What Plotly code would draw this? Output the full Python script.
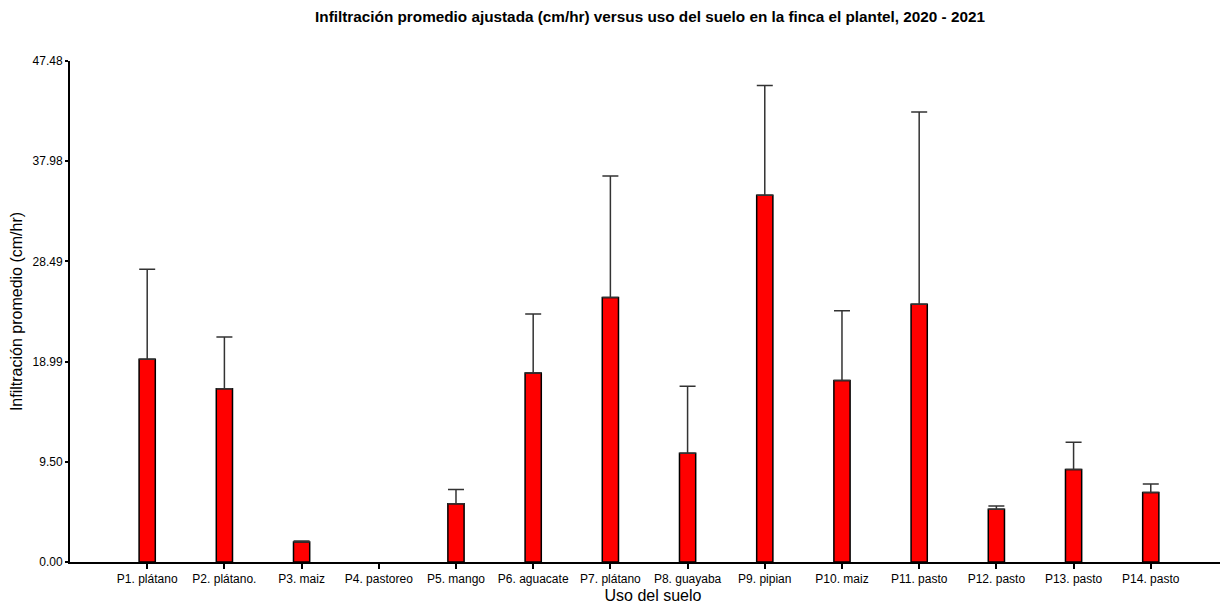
import plotly.graph_objects as go

categories = ["P1. plátano", "P2. plátano.", "P3. maiz", "P4. pastoreo", "P5. mango",
              "P6. aguacate", "P7. plátano", "P8. guayaba", "P9. pipian", "P10. maiz",
              "P11. pasto", "P12. pasto", "P13. pasto", "P14. pasto"]
means = [19.21, 16.43, 1.90, 0.0, 5.53, 17.91, 25.06, 10.30, 34.75, 17.19, 24.42, 4.99, 8.76, 6.58]
upper = [27.74, 21.32, 2.00, 0.0, 6.86, 23.50, 36.58, 16.65, 45.15, 23.82, 42.65, 5.31, 11.34, 7.39]
y_ticks = [0.00, 9.50, 18.99, 28.49, 37.98, 47.48]
y_tick_labels = ["0.00", "9.50", "18.99", "28.49", "37.98", "47.48"]

# zero-valued bars are not drawn (no outline, no cap)
y_plot = [m if m > 0 else None for m in means]
err_plus = [(u - m) if m > 0 else None for u, m in zip(upper, means)]

font_fam = "Liberation Sans, Arial, sans-serif"

fig = go.Figure()
fig.add_trace(go.Bar(
    x=list(range(len(categories))),
    y=y_plot,
    width=0.21,
    marker=dict(color="#ff0000", line=dict(color="#000000", width=1.5)),
    error_y=dict(type="data", symmetric=False, array=err_plus,
                 arrayminus=[0] * len(means), color="#333333",
                 thickness=1.5, width=8),
    showlegend=False,
))

# the page body adds an 8px offset, so the figure is margined to compensate
fig.update_layout(
    width=1228, height=600,
    margin=dict(l=62, r=0, t=53, b=46),
    plot_bgcolor="white", paper_bgcolor="white",
    title=dict(text="<b>Infiltración promedio ajustada (cm/hr) versus uso del suelo en la finca el plantel, 2020 - 2021</b>",
               x=0.5228, xanchor="center", yref="container", y=0.985, yanchor="middle",
               font=dict(family=font_fam, size=15.3, color="#000000")),
    xaxis=dict(
        range=[-1, 14.104], automargin=False,
        tickmode="array", tickvals=list(range(len(categories))), ticktext=categories,
        ticks="outside", ticklen=5, tickwidth=2, tickcolor="#000000",
        showline=True, linecolor="#000000", linewidth=2,
        showgrid=False, zeroline=False,
        tickfont=dict(family=font_fam, size=12, color="#000000"),
        title=dict(text="Uso del suelo", font=dict(family=font_fam, size=16, color="#000000"), standoff=4),
    ),
    yaxis=dict(
        range=[0, 47.48], automargin=False,
        tickmode="array", tickvals=y_ticks, ticktext=y_tick_labels,
        ticks="outside", ticklen=3, tickwidth=2, tickcolor="#000000",
        showline=True, linecolor="#000000", linewidth=2,
        showgrid=False, zeroline=False,
        tickfont=dict(family=font_fam, size=12, color="#000000"),
        title=dict(text="Infiltración promedio (cm/hr)", font=dict(family=font_fam, size=16, color="#000000"), standoff=11),
    ),
)

fig.write_html("out.html")
